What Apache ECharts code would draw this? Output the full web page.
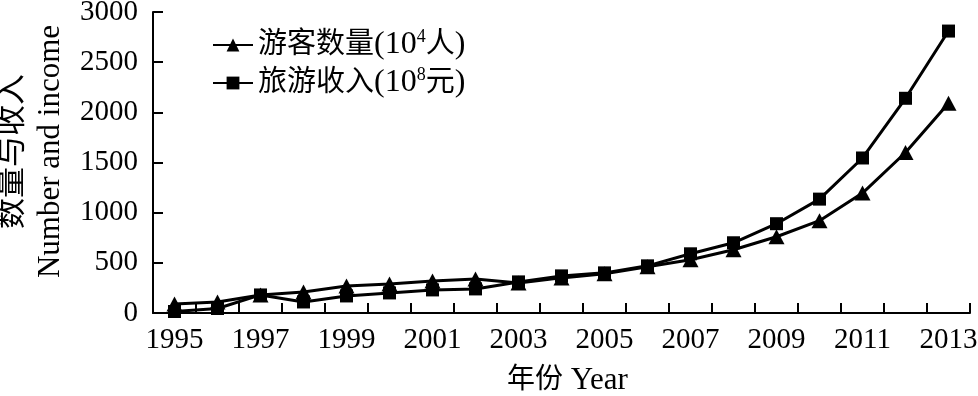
<!DOCTYPE html>
<html>
<head>
<meta charset="utf-8">
<script src="https://cdn.jsdelivr.net/npm/echarts@6/dist/echarts.min.js"></script>
<style>html,body{margin:0;padding:0;background:#fff}#c{width:978px;height:396px}</style>
</head>
<body>
<div id="c"></div>
<script>
var years = ['1995','1996','1997','1998','1999','2000','2001','2002','2003','2004','2005','2006','2007','2008','2009','2010','2011','2012','2013'];
var visitors = [90, 110, 180, 210, 270, 290, 320, 340, 300, 350, 390, 460, 530, 630, 760, 920, 1195, 1600, 2090];
var income = [15, 45, 180, 110, 170, 200, 230, 240, 310, 370, 400, 470, 590, 700, 890, 1135, 1545, 2140, 2810];
var yTicks = [0, 500, 1000, 1500, 2000, 2500, 3000];

var FONT = "'Liberation Serif', 'Times New Roman', 'Noto Sans CJK SC', serif";
var chart = echarts.init(document.getElementById('c'), null, {renderer: 'canvas'});
var legendRich = {
  cn: {fontFamily: FONT, fontSize: 29, color: '#000', lineHeight: 34},
  la: {fontFamily: FONT, fontSize: 32, color: '#000', lineHeight: 34},
  s: {fontFamily: FONT, fontSize: 18, color: '#000', verticalAlign: 'top', lineHeight: 34, padding: [0, 0, 12, 0]}
};
chart.setOption({
  animation: false,
  backgroundColor: '#fff',
  grid: {left: 153, right: 8, top: 12, bottom: 83, containLabel: false, outerBoundsMode: 'none'},
  legend: {
    orient: 'vertical',
    left: 207,
    top: 23,
    itemWidth: 40,
    itemHeight: 16,
    itemGap: 5,
    textStyle: {fontFamily: FONT, fontSize: 29, color: '#000', rich: legendRich},
    formatter: function (name) {
      if (name === '游客数量') return '{cn|游客数量}{la|(10}{s|4}{cn|人}{la|)}';
      return '{cn|旅游收入}{la|(10}{s|8}{cn|元}{la|)}';
    },
    data: ['游客数量', '旅游收入']
  },
  xAxis: {
    type: 'category',
    data: years,
    boundaryGap: true,
    name: '{cn|年份}{en|\u00a0Year}',
    nameLocation: 'middle',
    nameGap: 52,
    nameTextStyle: {
      verticalAlign: 'top', padding: [0, 0, 0, 12],
      rich: {
        cn: {fontFamily: FONT, fontSize: 28, color: '#000'},
        en: {fontFamily: FONT, fontSize: 31, color: '#000'}
      }
    },
    axisLine: {show: true, lineStyle: {color: '#000', width: 2}},
    axisTick: {show: true, inside: true, length: 10, interval: 0, lineStyle: {color: '#000', width: 2}},
    axisLabel: {interval: 1, margin: 13, fontFamily: FONT, fontSize: 29, color: '#000'},
    splitLine: {show: false}
  },
  yAxis: {
    type: 'value',
    min: yTicks[0],
    max: yTicks[yTicks.length - 1],
    interval: 500,
    name: '{cn|数量与收入}\n{en|Number and income}',
    nameLocation: 'middle',
    nameRotate: 90,
    nameGap: 83,
    nameTextStyle: {
      color: '#000',
      padding: [0, 0, 0, 22],
      rich: {
        cn: {fontFamily: FONT, fontSize: 31, color: '#000', lineHeight: 38},
        en: {fontFamily: FONT, fontSize: 31, color: '#000', lineHeight: 38}
      }
    },
    axisLine: {show: true, lineStyle: {color: '#000', width: 2}},
    axisTick: {show: true, inside: true, length: 10, lineStyle: {color: '#000', width: 2}},
    axisLabel: {margin: 15, fontFamily: FONT, fontSize: 29, color: '#000', formatter: function (v) { return String(v); }},
    splitLine: {show: false}
  },
  series: [
    {
      name: '游客数量',
      type: 'line',
      data: visitors,
      symbol: 'triangle',
      symbolSize: [16, 15],
      showAllSymbol: true,
      itemStyle: {color: '#000'},
      lineStyle: {color: '#000', width: 3}
    },
    {
      name: '旅游收入',
      type: 'line',
      data: income,
      symbol: 'rect',
      symbolSize: 13,
      showAllSymbol: true,
      itemStyle: {color: '#000'},
      lineStyle: {color: '#000', width: 3}
    }
  ]
});
</script>
</body>
</html>
